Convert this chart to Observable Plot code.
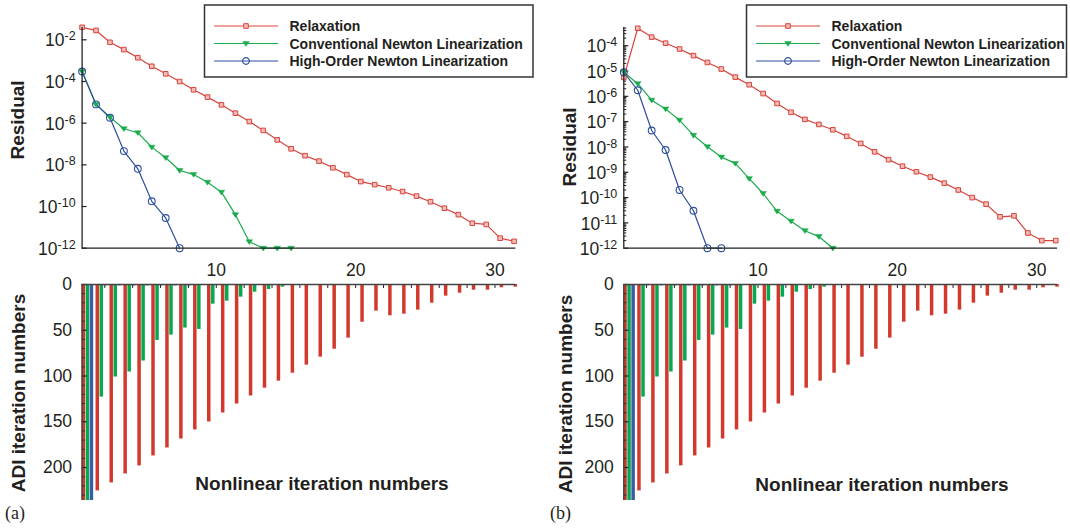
<!DOCTYPE html>
<html><head><meta charset="utf-8">
<script src="https://cdn.jsdelivr.net/npm/d3@7"></script>
<script src="https://cdn.jsdelivr.net/npm/@observablehq/plot@0.6"></script>
<style>
html,body{margin:0;padding:0;background:#fff;}
#root{position:relative;width:1070px;height:528px;overflow:hidden;font-family:"Liberation Sans",Arial,Helvetica,sans-serif;}
#root svg{position:absolute;left:0;top:0;}
</style></head><body><div id="root"></div>
<script>
// ---------------- data ----------------
const iterations = [1,2,3,4,5,6,7,8,9,10,11,12,13,14,15,16,17,18,19,20,21,22,23,24,25,26,27,28,29,30,31,32];
const seriesNames = ["Relaxation", "Conventional Newton Linearization", "High-Order Newton Linearization"];

// panel (a) residuals
const relaxA = [3.98e-2,2.82e-2,7.59e-3,3.39e-3,1.38e-3,5.37e-4,2.34e-4,1.0e-4,3.98e-5,1.78e-5,7.59e-6,3.02e-6,1.20e-6,4.47e-7,1.58e-7,5.89e-8,2.75e-8,1.51e-8,7.24e-9,3.39e-9,1.58e-9,1.12e-9,7.94e-10,5.25e-10,3.16e-10,1.70e-10,8.32e-11,4.07e-11,1.58e-11,1.38e-11,3.02e-12,2.14e-12];
const convA = [3.02e-4,7.94e-6,1.95e-6,5.37e-7,3.47e-7,7.08e-8,2.19e-8,5.37e-9,3.47e-9,1.45e-9,4.90e-10,4.07e-11,2.04e-12,1e-12,1e-12,1e-12];
const highA = [3.02e-4,7.94e-6,1.82e-6,4.57e-8,6.46e-9,1.78e-10,2.82e-11,1e-12];

// panel (b) residuals
const relaxB = [5.62e-6,4.90e-4,2.19e-4,1.26e-4,7.41e-5,4.07e-5,2.19e-5,1.20e-5,5.75e-6,2.88e-6,1.29e-6,5.25e-7,2.34e-7,1.23e-7,7.76e-8,4.79e-8,2.63e-8,1.38e-8,6.46e-9,3.16e-9,1.74e-9,1.05e-9,6.46e-10,3.72e-10,2.00e-10,1.00e-10,5.50e-11,1.74e-11,1.91e-11,3.98e-12,2.00e-12,2.00e-12];
const convB = [8.91e-6,3.16e-6,7.08e-7,3.16e-7,1.15e-7,2.88e-8,1.02e-8,3.98e-9,2.24e-9,5.62e-10,1.45e-10,2.88e-11,1.17e-11,4.90e-12,2.88e-12,1e-12];
const highB = [8.91e-6,1.74e-6,4.47e-8,7.59e-9,2.00e-10,3.02e-11,1e-12,1e-12];

// ADI iteration numbers (bars)
const adiRelaxA = [236,225.5,216.8,207,198.2,187.3,178.6,168.8,158.9,150.2,140.4,130.6,121.8,113.3,105.6,96.9,88.1,79.4,70.7,58.6,41.2,29.1,34.2,32.4,28.0,20.4,12.7,9.5,6.2,6.2,3.6,2.9];
const adiConvA = [236,123,101.1,95.6,83.6,61.1,55.3,47.6,49.1,21.5,18.2,13.8,8.4,5.5,2.9];
const adiHighA = [236,1.5,1.5,1.5,1.5,1.5,1.5,1.5];
const adiRelaxB = [236,225.5,216.8,207,198.2,187.3,178.6,168.8,158.9,150.2,140.4,130.6,121.8,113.3,105.6,96.9,88.1,79.4,70.7,58.6,41.2,29.1,34.2,32.4,28.0,20.4,12.7,9.5,6.2,6.2,3.6,2.9];
const adiConvB = [236,123,101.1,95.6,83.6,61.1,55.3,47.6,49.1,21.5,18.2,13.8,8.4,5.5,2.9];
const adiHighB = [236,1.5,1.5,1.5,1.5,1.5,1.5,1.5];

// tick values / labels
const yTicksA = [1e-2,1e-4,1e-6,1e-8,1e-10,1e-12];
const yTicksB = [1e-4,1e-5,1e-6,1e-7,1e-8,1e-9,1e-10,1e-11,1e-12];
const adiTicks = [0,50,100,150,200];
const adiMinor = [10,20,30,40,60,70,80,90,110,120,130,140,160,170,180,190,210,220,230];
const xTickMarks = [2,4,6,8,10,12,14,16,18,20,22,24,26,28,30];
const xTickLabels = [10,20,30];

// ---------------- styling ----------------
const W = 1070, H = 528;
const FONT = "Liberation Sans, Arial, Helvetica, sans-serif";
const INK = "#231f20";
const AX = "#222";
const C = {
  redLine: "#d8453d", redFill: "#f4bcb6", redBar: "#d2392c",
  greenLine: "#1aab4c", greenBar: "#05a94f",
  blueLine: "#2d4f9d", blueBar: "#3a5ba6"
};
const XOFF = 0.63, XD0 = 0.37, XD1 = 31.5, PX = 13.935; // px per iteration
const triangleDown = {
  draw(ctx, size) {
    const r = Math.sqrt(size / Math.PI);
    ctx.moveTo(-r, -r * 0.6);
    ctx.lineTo(r, -r * 0.6);
    ctx.lineTo(0, r * 0.85);
    ctx.closePath();
  }
};
const pts = arr => arr.map((v, i) => ({x: iterations[i] - XOFF, v}));
const root = document.getElementById("root");
const baseStyle = {background: "transparent", overflow: "visible", fontFamily: FONT};

function superscripts(svg) {
  d3.select(svg).selectAll("text").each(function () {
    const s = this.textContent, k = s.indexOf("^");
    if (k < 0) return;
    const t = d3.select(this);
    t.text(s.slice(0, k));
    t.append("tspan").attr("dy", "-0.48em").attr("font-size", "12.5px").text(s.slice(k + 1));
  });
}

function topPlot({x0, relax, conv, high, yTop, ticks, minor}) {
  const r = pts(relax), g = pts(conv), b = pts(high);
  const svg = Plot.plot({
    width: W, height: H, margin: 0, style: baseStyle,
    x: {domain: [XD0, XD1], range: [x0, x0 + (XD1 - XD0) * PX], axis: null},
    y: {type: "log", domain: [1e-12, yTop], range: [247.7, 27], axis: null},
    marks: [
      Plot.ruleY(minor, {x1: XD0, x2: XD0 + 3 / PX, stroke: AX, strokeWidth: 1}),
      Plot.ruleY(ticks, {x1: XD0, x2: XD0 + 5 / PX, stroke: AX, strokeWidth: 1.2}),
      Plot.text(ticks, {x: XD0, y: d => d, text: d => "10^" + Math.round(Math.log10(d)), textAnchor: "end", dx: -6.5, dy: 1, fontSize: 17.5, fill: INK}),
      Plot.line(r, {x: "x", y: "v", stroke: C.redLine, strokeWidth: 1.2}),
      Plot.line(g, {x: "x", y: "v", stroke: C.greenLine, strokeWidth: 1.2}),
      Plot.line(b, {x: "x", y: "v", stroke: C.blueLine, strokeWidth: 1.2}),
      Plot.dot(r, {x: "x", y: "v", symbol: "square", r: 2.6, stroke: C.redLine, fill: C.redFill, strokeWidth: 1}),
      Plot.dot(g, {x: "x", y: "v", symbol: triangleDown, r: 3.3, fill: C.greenLine, stroke: C.greenLine, strokeWidth: 0.5}),
      Plot.dot(b, {x: "x", y: "v", symbol: "circle", r: 3.4, stroke: C.blueLine, fill: "none", strokeWidth: 1.1}),
      Plot.ruleX([XD0], {y1: 1e-12, y2: yTop, stroke: AX, strokeWidth: 1.3}),
      Plot.ruleY([1e-12], {x1: XD0, x2: XD1, stroke: AX, strokeWidth: 1.3})
    ]
  });
  superscripts(svg);
  root.appendChild(svg);
}

function bottomPlot({x0, relax, conv, high}) {
  const r = pts(relax), g = pts(conv), b = pts(high);
  const svg = Plot.plot({
    width: W, height: H, margin: 0, style: baseStyle,
    x: {domain: [XD0, XD1], range: [x0, x0 + (XD1 - XD0) * PX], axis: null},
    y: {domain: [0, 236], range: [284, 500], axis: null},
    marks: [
      Plot.rect(r, {x1: d => d.x, x2: d => d.x + 0.25, y1: 0, y2: "v", fill: C.redBar}),
      Plot.rect(g, {x1: d => d.x + 0.29, x2: d => d.x + 0.54, y1: 0, y2: "v", fill: C.greenBar}),
      Plot.rect(b, {x1: d => d.x + 0.58, x2: d => d.x + 0.83, y1: 0, y2: "v", fill: C.blueBar}),
      Plot.ruleY(adiMinor, {x1: XD0, x2: XD0 + 3 / PX, stroke: AX, strokeWidth: 1}),
      Plot.ruleY(adiTicks, {x1: XD0, x2: XD0 + 5 / PX, stroke: AX, strokeWidth: 1.2}),
      Plot.ruleX(xTickMarks, {y1: 0, y2: 4 / 0.9153, stroke: AX, strokeWidth: 1}),
      Plot.ruleX([XD0], {y1: 0, y2: 236, stroke: "#444", strokeWidth: 1.4}),
      Plot.ruleY([0], {x1: XD0, x2: XD1, stroke: "#444", strokeWidth: 1.4}),
      Plot.text(adiTicks, {x: XD0, y: d => d, text: d => String(d), textAnchor: "end", dx: -10, fontSize: 17.5, fill: INK}),
      Plot.text(xTickLabels, {x: d => d, y: 0, text: d => String(d), dy: -14, fontSize: 17.5, fill: INK})
    ]
  });
  root.appendChild(svg);
}

topPlot({x0: 81.6, relax: relaxA, conv: convA, high: highA, yTop: 3.9e-2, ticks: yTicksA, minor: []});
const minorB = [];
for (let k = -12; k <= -4; k++) for (let m = 2; m <= 9; m++) { const v = m * Math.pow(10, k); if (v <= 5.25e-4) minorB.push(v); }
topPlot({x0: 623.3, relax: relaxB, conv: convB, high: highB, yTop: 5.25e-4, ticks: yTicksB, minor: minorB});
bottomPlot({x0: 81.6, relax: adiRelaxA, conv: adiConvA, high: adiHighA});
bottomPlot({x0: 623.3, relax: adiRelaxB, conv: adiConvB, high: adiHighB});

// ---------------- overlay: titles, legends, panel labels ----------------
const ov = d3.select(root).append("svg").attr("width", W).attr("height", H)
  .style("font-family", FONT).style("overflow", "visible");

function vtitle(x, y, s) {
  ov.append("text").attr("transform", `translate(${x},${y}) rotate(-90)`)
    .attr("text-anchor", "middle").attr("font-size", 19).attr("font-weight", "bold").attr("fill", INK).text(s);
}
vtitle(24, 120, "Residual");
vtitle(576, 147, "Residual");
vtitle(25, 393, "ADI iteration numbers");
vtitle(571.5, 394, "ADI iteration numbers");
ov.append("text").attr("x", 322).attr("y", 490).attr("text-anchor", "middle").attr("font-size", 19).attr("font-weight", "bold").attr("fill", INK).text("Nonlinear iteration numbers");
ov.append("text").attr("x", 882).attr("y", 491).attr("text-anchor", "middle").attr("font-size", 19).attr("font-weight", "bold").attr("fill", INK).text("Nonlinear iteration numbers");
ov.append("text").attr("x", 5).attr("y", 519).attr("font-size", 18).attr("font-family", "Liberation Serif, Times New Roman, serif").attr("fill", INK).text("(a)");
ov.append("text").attr("x", 550).attr("y", 519).attr("font-size", 18).attr("font-family", "Liberation Serif, Times New Roman, serif").attr("fill", INK).text("(b)");

function legend(x, y, w, h) {
  const g = ov.append("g").attr("transform", `translate(${x},${y})`);
  g.append("rect").attr("width", w).attr("height", h).attr("fill", "#fff").attr("stroke", "#333").attr("stroke-width", 1.5);
  const rows = [
    {name: seriesNames[0], c: C.redLine, sym: d3.symbol(d3.symbolSquare, 2.6 * 2.6 * Math.PI), fill: C.redFill, sw: 1},
    {name: seriesNames[1], c: C.greenLine, sym: d3.symbol(triangleDown, 3.3 * 3.3 * Math.PI), fill: C.greenLine, sw: 0.5},
    {name: seriesNames[2], c: C.blueLine, sym: d3.symbol(d3.symbolCircle, 3.4 * 3.4 * Math.PI), fill: "none", sw: 1.1}
  ];
  rows.forEach((r, i) => {
    const yy = 21 + i * 17.5;
    g.append("line").attr("x1", 9.6).attr("x2", 73.6).attr("y1", yy).attr("y2", yy).attr("stroke", r.c).attr("stroke-width", 1.2);
    g.append("path").attr("d", r.sym()).attr("transform", `translate(41.5,${yy})`).attr("fill", r.fill).attr("stroke", r.c).attr("stroke-width", r.sw);
    g.append("text").attr("x", 85).attr("y", yy).attr("dy", "0.36em").attr("font-size", 14).attr("font-weight", "bold").attr("fill", INK).text(r.name);
  });
}
legend(204.5, 5, 328.5, 72);
legend(746.5, 5, 320, 72);
</script></body></html>
